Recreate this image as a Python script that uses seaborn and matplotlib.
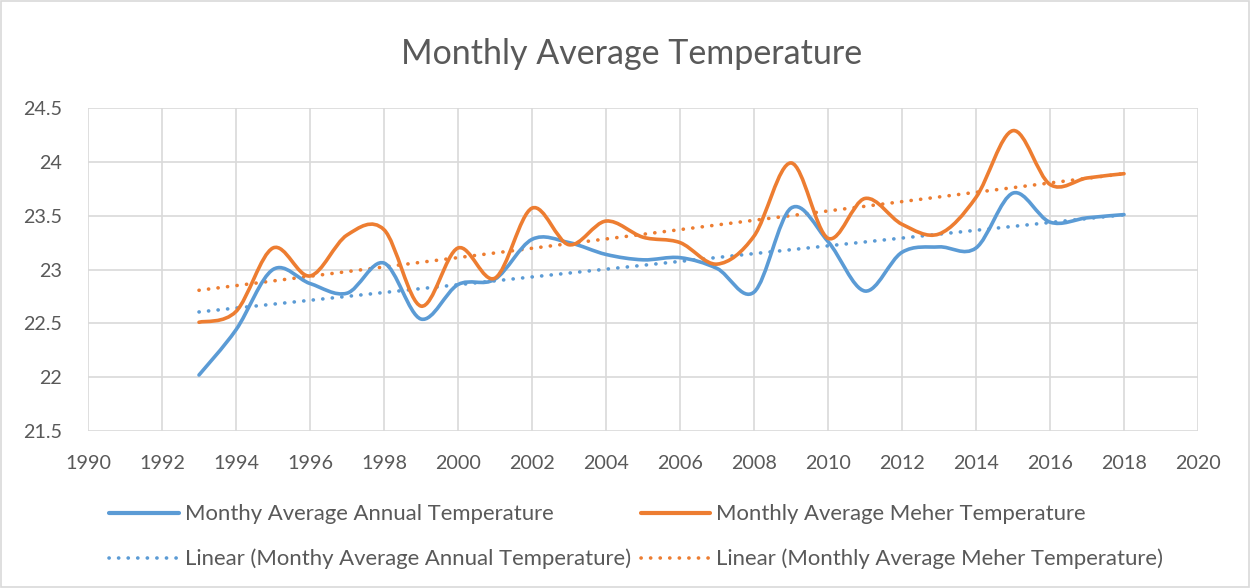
import numpy as np
import pandas as pd
import matplotlib
matplotlib.use("Agg")
import matplotlib.pyplot as plt
import seaborn as sns
from matplotlib.path import Path
from matplotlib.patches import PathPatch, Rectangle
from matplotlib.lines import Line2D

years = list(range(1993, 2019))
annual = [22.02, 22.44, 23.00, 22.87, 22.78, 23.06, 22.54, 22.86, 22.91, 23.28,
          23.25, 23.14, 23.09, 23.11, 23.01, 22.79, 23.57, 23.26, 22.80, 23.16,
          23.21, 23.20, 23.71, 23.44, 23.48, 23.51]
meher = [22.51, 22.61, 23.20, 22.94, 23.32, 23.37, 22.66, 23.20, 22.92, 23.57,
         23.23, 23.45, 23.30, 23.25, 23.05, 23.31, 23.99, 23.29, 23.66, 23.42,
         23.33, 23.67, 24.29, 23.79, 23.85, 23.89]

title = "Monthly Average Temperature"
label_a = "Monthy Average Annual Temperature"
label_m = "Monthly Average Meher Temperature"
xticks = list(range(1990, 2021, 2))
yticks = [21.5, 22, 22.5, 23, 23.5, 24, 24.5]
ytick_labels = ["21.5", "22", "22.5", "23", "23.5", "24", "24.5"]

BLUE = "#5B9BD5"
ORANGE = "#ED7D31"
GRID = "#D9D9D9"
TEXT = "#595959"

sns.set_theme(style="white")
plt.rcParams['font.family'] = ['Lato', 'DejaVu Sans']

df = pd.DataFrame({"year": years, "annual": annual, "meher": meher})

fig = plt.figure(figsize=(12.5, 5.88), dpi=100)
ax = fig.add_axes([0.0704, 0.267, 0.888, 0.5493])


def smooth_path(xs, ys):
    # Excel-like smoothed line: cubic Bezier through each data point
    pts = np.column_stack([xs, ys]).astype(float)
    n = len(pts)
    verts = [pts[0]]
    codes = [Path.MOVETO]
    for i in range(n - 1):
        p0 = pts[i - 1] if i > 0 else pts[i]
        p1 = pts[i]
        p2 = pts[i + 1]
        p3 = pts[i + 2] if i + 2 < n else pts[i + 1]
        c1 = p1 + (p2 - p0) / 6.0
        c2 = p2 - (p3 - p1) / 6.0
        verts += [c1, c2, p2]
        codes += [Path.CURVE4] * 3
    return Path(verts, codes)


# trend lines
dot_style = (0, (0.05, 2.6))
sns.regplot(data=df, x="year", y="annual", ax=ax, scatter=False, ci=None, truncate=True,
            line_kws=dict(color=BLUE, lw=2.6, ls=dot_style, dash_capstyle="round", zorder=3))
sns.regplot(data=df, x="year", y="meher", ax=ax, scatter=False, ci=None, truncate=True,
            line_kws=dict(color=ORANGE, lw=2.6, ls=dot_style, dash_capstyle="round", zorder=3))

for col, color in (("annual", BLUE), ("meher", ORANGE)):
    patch = PathPatch(smooth_path(df["year"], df[col]), facecolor="none", edgecolor=color,
                      lw=2.6, capstyle="round", joinstyle="round", zorder=4)
    ax.add_patch(patch)

ax.set_xlim(1990, 2020)
ax.set_ylim(21.5, 24.5)
ax.set_xticks(xticks)
ax.set_xticklabels([str(x) for x in xticks])
ax.set_yticks(yticks)
ax.set_yticklabels(ytick_labels)
ax.grid(True, color=GRID, lw=1.2, zorder=0)
ax.set_axisbelow(True)
for s in ax.spines.values():
    s.set_visible(False)
ax.tick_params(axis="both", length=0, labelsize=14.2, colors=TEXT)
ax.tick_params(axis="x", pad=17)
ax.tick_params(axis="y", pad=19)
ax.set_xlabel("")
ax.set_ylabel("")

fig.text(0.505, 0.909, title, ha="center", va="center", fontsize=24.5, color=TEXT)

handles = [
    Line2D([], [], color=BLUE, lw=3),
    Line2D([], [], color=BLUE, lw=2.6, ls=dot_style, dash_capstyle="round"),
    Line2D([], [], color=ORANGE, lw=3),
    Line2D([], [], color=ORANGE, lw=2.6, ls=dot_style, dash_capstyle="round"),
]
labels = [label_a, "Linear (" + label_a + ")", label_m, "Linear (" + label_m + ")"]
leg = fig.legend(handles, labels, ncol=2, loc="center", bbox_to_anchor=(0.509, 0.087),
                 frameon=False, fontsize=15.9, handlelength=3.15, handletextpad=0.27,
                 columnspacing=0.45, labelspacing=1.1)
for t in leg.get_texts():
    t.set_color(TEXT)

fig.add_artist(Rectangle((0.001, 0.001), 0.998, 0.998, transform=fig.transFigure,
                         fill=False, edgecolor=GRID, lw=1.2))

fig.savefig("out.png", dpi=100)
